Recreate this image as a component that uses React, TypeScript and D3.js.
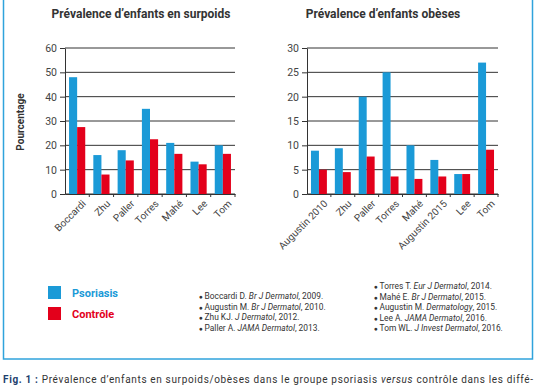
import { useRef, useEffect } from 'react';
import * as d3 from 'd3';

const series = ['Psoriasis', 'Contrôle'];
const colors = ['#1b9ad7', '#e3001b'];

const surpoidsCats = ['Boccardi', 'Zhu', 'Paller', 'Torres', 'Mahé', 'Lee', 'Tom'];
const surpoidsPso = [48, 16, 18, 35, 21, 13.3, 20];
const surpoidsCtrl = [27.5, 8, 13.8, 22.5, 16.5, 12.2, 16.5];
const surpoidsTicks = [0, 10, 20, 30, 40, 50, 60];

const obesesCats = ['Augustin 2010', 'Zhu', 'Paller', 'Torres', 'Mahé', 'Augustin 2015', 'Lee', 'Tom'];
const obesesPso = [8.9, 9.4, 20, 25, 10, 7, 4.1, 27];
const obesesCtrl = [5, 4.5, 7.7, 3.6, 3.1, 3.6, 4.1, 9.1];
const obesesTicks = [0, 5, 10, 15, 20, 25, 30];

const refsLeft = [
  ['Boccardi D. ', 'Br J Dermatol', ', 2009.'],
  ['Augustin M. ', 'Br J Dermatol', ', 2010.'],
  ['Zhu KJ. ', 'J Dermatol', ', 2012.'],
  ['Paller A. ', 'JAMA Dermatol', ', 2013.'],
];
const refsRight = [
  ['Torres T. ', 'Eur J Dermatol', ', 2014.'],
  ['Mahé E. ', 'Br J Dermatol', ', 2015.'],
  ['Augustin M. ', 'Dermatology', ', 2015.'],
  ['Lee A. ', 'JAMA Dermatol', ', 2016.'],
  ['Tom WL. ', 'J Invest Dermatol', ', 2016.'],
];

const FONT = '"Roboto", "Liberation Sans", sans-serif';

export default function App() {
  const svgRef = useRef<SVGSVGElement>(null);

  useEffect(() => {
    const svg = d3.select(svgRef.current);
    svg.selectAll('*').remove();
    svg.style('font-family', FONT);

    // cadre bleu
    svg.append('rect')
      .attr('x', 3.5).attr('y', -20)
      .attr('width', 529).attr('height', 379)
      .attr('fill', 'none')
      .attr('stroke', '#2fa3dc')
      .attr('stroke-width', 1.5);

    const drawChart = (opts: any) => {
      const { cats, pso, ctrl, ticks, x0, x1, title, titleX } = opts;
      const top = 48, bottom = 194;
      const x = d3.scaleBand().domain(cats).range([x0, x1]);
      const xi = d3.scaleBand().domain(series).range([0, x.bandwidth()]).paddingOuter(0.5);
      const y = d3.scaleLinear().domain([0, ticks[ticks.length - 1]]).range([bottom, top]);
      const g = svg.append('g');

      g.append('text')
        .attr('x', titleX).attr('y', 18)
        .attr('text-anchor', 'middle')
        .attr('font-size', 12).attr('font-weight', 'bold')
        .attr('fill', '#333')
        .text(title);

      // grille
      g.selectAll('.grid')
        .data(ticks)
        .join('line')
        .attr('x1', x0).attr('x2', x1)
        .attr('y1', (d: number) => y(d)).attr('y2', (d: number) => y(d))
        .attr('stroke', '#333').attr('stroke-width', 1);

      const yAxis = d3.axisLeft(y).tickValues(ticks).tickSize(5).tickSizeOuter(0);
      const ya = g.append('g').attr('transform', `translate(${x0},0)`).call(yAxis);
      ya.select('.domain').attr('stroke', '#333');
      ya.selectAll('line').attr('stroke', '#333');
      ya.selectAll('text').attr('font-size', 10.5).attr('fill', '#444').attr('font-family', FONT);

      const rows = cats.map((c: string, i: number) => ({ c, vals: [pso[i], ctrl[i]] }));
      g.selectAll('.grp')
        .data(rows)
        .join('g')
        .attr('transform', (d: any) => `translate(${x(d.c)},0)`)
        .selectAll('rect')
        .data((d: any) => d.vals.map((v: number, k: number) => ({ k, v })))
        .join('rect')
        .attr('x', (d: any) => xi(series[d.k]))
        .attr('width', xi.bandwidth())
        .attr('y', (d: any) => y(d.v))
        .attr('height', (d: any) => bottom - y(d.v))
        .attr('fill', (d: any) => colors[d.k]);

      const xAxis = d3.axisBottom(x).tickSize(0).tickSizeOuter(0);
      const xa = g.append('g').attr('transform', `translate(0,${bottom})`).call(xAxis);
      xa.select('.domain').attr('stroke', '#333');
      xa.selectAll('text')
        .attr('font-size', 10).attr('fill', '#444').attr('font-family', FONT)
        .attr('text-anchor', 'end')
        .attr('transform', 'translate(3,4) rotate(-45)')
        .attr('dy', '0.6em');

      // petits traits entre les groupes
      g.selectAll('.sep')
        .data(cats.slice(1).concat(['__end']))
        .join('line')
        .attr('x1', (d: string, i: number) => (i < cats.length - 1 ? x(d) : x1))
        .attr('x2', (d: string, i: number) => (i < cats.length - 1 ? x(d) : x1))
        .attr('y1', bottom).attr('y2', bottom + 3)
        .attr('stroke', '#333');
    };

    drawChart({
      cats: surpoidsCats, pso: surpoidsPso, ctrl: surpoidsCtrl, ticks: surpoidsTicks,
      x0: 65, x1: 235, title: "Prévalence d’enfants en surpoids", titleX: 141,
    });
    drawChart({
      cats: obesesCats, pso: obesesPso, ctrl: obesesCtrl, ticks: obesesTicks,
      x0: 307, x1: 498, title: "Prévalence d’enfants obèses", titleX: 383,
    });

    svg.append('text')
      .attr('transform', 'translate(24,122) rotate(-90)')
      .attr('text-anchor', 'middle')
      .attr('font-size', 10).attr('font-weight', 'bold')
      .attr('fill', '#333')
      .text('Pourcentage');

    // légende
    const leg = svg.append('g');
    series.forEach((s, i) => {
      leg.append('rect')
        .attr('x', 48).attr('y', 286 + i * 21)
        .attr('width', 13).attr('height', 13)
        .attr('fill', colors[i]);
      leg.append('text')
        .attr('x', 72).attr('y', 297 + i * 21)
        .attr('font-size', 11).attr('font-weight', 'bold')
        .attr('fill', colors[i])
        .text(s);
    });

    const drawRefs = (refs: string[][], x: number, y0: number) => {
      refs.forEach((r, i) => {
        const t = svg.append('text')
          .attr('x', x).attr('y', y0 + i * 10.5)
          .attr('font-size', 8.4).attr('fill', '#333');
        t.append('tspan').text('● ').attr('font-size', 6.5);
        t.append('tspan').text(r[0]);
        t.append('tspan').text(r[1]).attr('font-style', 'italic');
        t.append('tspan').text(r[2]);
      });
    };
    drawRefs(refsLeft, 199, 299);
    drawRefs(refsRight, 374, 289);

    const cap = svg.append('text')
      .attr('x', 3).attr('y', 383)
      .attr('font-size', 10).attr('fill', '#333')
      .attr('textLength', 530).attr('lengthAdjust', 'spacing');
    cap.append('tspan').text('Fig. 1 : ').attr('font-weight', 'bold').attr('fill', '#1d3f6e');
    cap.append('tspan').text('Prévalence d’enfants en surpoids/obèses dans le groupe psoriasis ');
    cap.append('tspan').text('versus').attr('font-style', 'italic');
    cap.append('tspan').text(' contrôle dans les diffé-');
  }, []);

  return (
    <svg
      ref={svgRef}
      width={536}
      height={386}
      style={{ position: 'absolute', left: 0, top: 0, background: '#fff' }}
    />
  );
}
